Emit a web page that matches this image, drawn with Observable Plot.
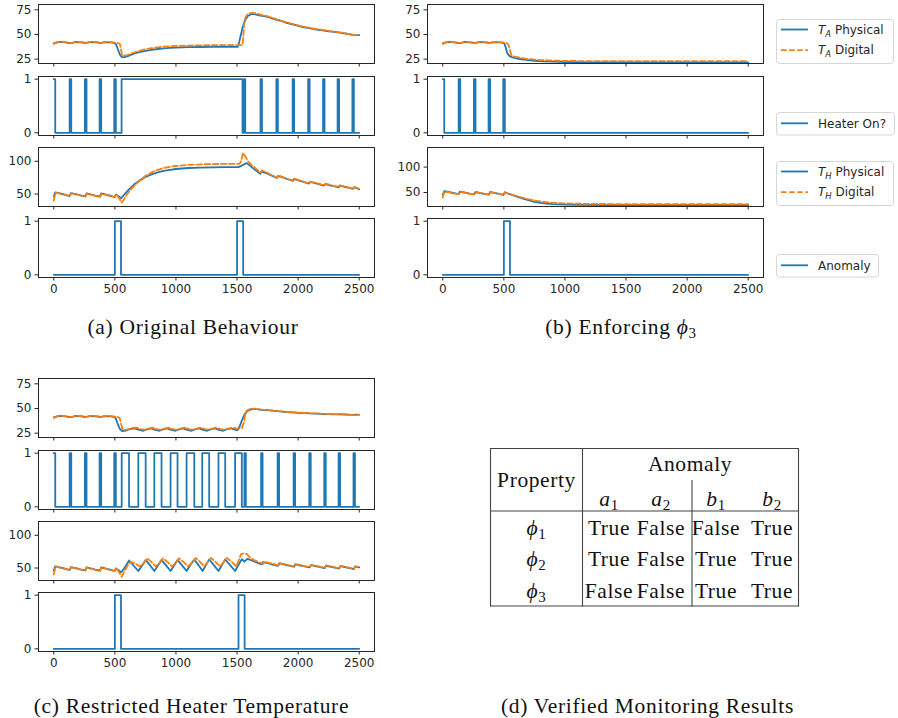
<!DOCTYPE html>
<html><head><meta charset="utf-8">
<script src="https://cdn.jsdelivr.net/npm/d3@7"></script>
<script src="https://cdn.jsdelivr.net/npm/@observablehq/plot@0.6"></script>
<style>
html,body{margin:0;padding:0;background:#fff;}
#root{position:relative;width:898px;height:718px;overflow:hidden;background:#fff;}
</style>
</head><body><div id="root"></div>
<script>
// ---------------- DATA ----------------
const xTicks = [0, 500, 1000, 1500, 2000, 2500];
const taTicks = [25, 50, 75];
const binTicks = [0, 1];
const thTicks = [50, 100];

// shared behaviour before the anomaly at t=500
const taPhysPre = [[0,41],[25,42],[55,42.6],[95,42],[130,41.3],[150,41.6],[180,42.4],[220,42.1],[255,41.4],[275,41.7],[300,42.4],[340,42.1],[375,41.4],[395,41.7],[420,42.3],[460,42],[495,41.4]];
const taDigPre = [[0,40.5],[20,41.5],[50,42.8],[90,42.3],[130,41.5],[160,41.8],[190,42.6],[230,42.3],[265,41.6],[285,41.9],[310,42.6],[350,42.3],[385,41.6],[405,41.9],[430,42.5],[470,42.2],[500,41.8]];
const thPhysPre = [[0,46],[12,52.5],[50,51],[90,49],[130,47],[140,51.5],[180,50],[220,48],[258,46.5],[268,51],[300,49.5],[340,47.5],[377,46],[388,51],[420,49.5],[460,47.5],[497,45.5]];
const thDigPre = [[0,40],[14,52],[50,50.6],[90,48.6],[132,46.6],[142,51.3],[180,49.6],[220,47.6],[260,46.2],[270,50.8],[300,49.2],[340,47.2],[380,45.7],[390,50.8],[420,49.2],[460,47.2],[500,45.2]];

// (a) Original Behaviour
const taPhysA = [[510,40],[525,35],[540,30],[555,27.2],[570,26.8],[600,27.8],[650,30.3],[700,32.1],[750,33.5],[800,34.5],[850,35.3],[900,35.9],[950,36.4],[1000,36.7],[1100,37.1],[1200,37.3],[1300,37.4],[1400,37.5],[1505,37.5],[1515,41],[1530,49],[1545,57],[1565,64.5],[1590,69],[1620,70.8],[1650,70.5],[1690,69.2],[1710,68.8],[1750,67.8],[1800,65.8],[1830,64.5],[1850,64.2],[1900,62],[1950,60.2],[1975,59.8],[2000,58.8],[2050,57.2],[2100,56.2],[2150,55],[2200,54.2],[2250,53.2],[2300,52.6],[2350,51.6],[2400,50.6],[2450,49.6],[2500,49.3]];
const taDigA = [[520,41.6],[540,40.5],[548,37],[555,31],[563,28.3],[600,29],[650,31.5],[700,33.5],[750,35],[800,36.1],[850,37],[900,37.6],[950,38.1],[1000,38.4],[1100,38.8],[1200,39],[1300,39.1],[1400,39.2],[1545,39.2],[1550,47],[1558,60],[1568,67],[1585,70.5],[1620,72],[1650,71.5],[1700,69.8],[1750,68.5],[1800,66.5],[1830,65],[1850,64.5],[1900,62.5],[1950,60.8],[2000,59.2],[2050,57.8],[2100,56.5],[2150,55.5],[2200,54.6],[2250,53.6],[2300,52.8],[2350,52],[2400,50.8],[2450,49.6],[2500,49]];
const heaterOnA = [[0,12],[130,143],[255,268],[375,388],[495,508],[555,1545],[1555,1567],[1692,1704],[1822,1834],[1955,1967],[2082,2094],[2204,2216],[2323,2335],[2444,2456]];
const thPhysA = [[510,49.5],[530,46.5],[552,43.5],[580,50],[620,58],[660,65],[700,70.5],[750,76],[800,80],[850,83],[900,85.3],[950,87],[1000,88.2],[1100,89.7],[1200,90.4],[1300,90.8],[1400,91],[1510,91],[1530,92.5],[1555,95],[1580,97.2],[1610,92.5],[1650,86.5],[1690,81],[1700,84.5],[1740,82],[1790,77.5],[1826,74.5],[1836,77.8],[1880,75],[1920,72.2],[1957,70],[1967,72.8],[2010,70.5],[2050,68],[2088,66],[2098,68.5],[2140,66.5],[2180,64.5],[2210,63],[2220,65.3],[2270,63],[2300,61.7],[2330,60.5],[2340,62.8],[2390,60.5],[2430,59],[2450,58],[2460,60.5],[2500,57.3]];
const thDigA = [[512,49.8],[535,43.5],[556,36.8],[575,42],[600,50],[650,61],[700,70],[750,77.5],[800,83],[850,87],[900,89.8],[950,91.6],[1000,92.8],[1100,94.4],[1200,95.3],[1300,95.7],[1400,96],[1520,96],[1535,101],[1548,113],[1565,108],[1590,100],[1620,94],[1660,88],[1693,83],[1703,86],[1740,83],[1790,78.5],[1830,75],[1840,78.5],[1880,75.5],[1920,72.8],[1960,70.5],[1970,73.5],[2010,71],[2050,68.5],[2090,66.3],[2100,69],[2140,67],[2180,65],[2212,63.2],[2222,65.8],[2270,63.5],[2300,62],[2333,60.5],[2343,63.3],[2390,61],[2430,59],[2452,57.8],[2462,60.8],[2500,58]];
const anomalyA = [[500,550],[1500,1550]];

// (b) Enforcing phi_3
const taPhysB = [[505,40.5],[515,37],[528,31],[545,28.3],[570,26.8],[620,25.4],[680,24.3],[750,23.4],[820,22.8],[900,22.4],[1000,22.1],[1200,21.8],[1500,21.7],[2000,21.6],[2500,21.6]];
const taDigB = [[525,41.4],[540,39],[550,34],[560,29.5],[580,27.8],[630,26.4],[700,25.2],[780,24.3],[860,23.8],[950,23.4],[1100,23.1],[1400,23],[2000,23],[2500,23]];
const heaterOnB = [[0,12],[130,143],[255,268],[375,388],[495,508]];
const thPhysB = [[508,50.5],[530,48.5],[560,46],[600,42.5],[650,38.3],[700,34.8],[750,31.8],[800,29.8],[850,28.3],[900,27.3],[1000,26.1],[1100,25.5],[1300,25.1],[1600,25],[2500,25]];
const thDigB = [[510,50.2],[535,47.5],[565,45.5],[600,43.3],[650,40],[700,37],[750,34.5],[800,32.5],[850,31],[900,30],[1000,28.7],[1100,28],[1300,27.4],[1600,27.2],[2500,27.2]];
const anomalyB = [[500,550]];

// (c) Restricted Heater Temperature
const taPhysC = [[507,40],[522,35],[540,29.5],[560,27.2],[590,27.5],[625,29.2],[660,29.8],[700,28.3],[735,27.4],[760,28.8],[795,29.8],[830,28.3],[866,27.4],[893,28.8],[928,29.8],[962,28.3],[997,27.4],[1024,28.8],[1059,29.8],[1093,28.3],[1128,27.4],[1155,28.8],[1190,29.8],[1222,28.3],[1256,27.4],[1283,28.8],[1318,29.8],[1352,28.3],[1387,27.4],[1414,28.8],[1450,29.8],[1488,28.3],[1505,28],[1520,31.5],[1540,38],[1560,43.5],[1585,47.5],[1620,49.3],[1660,49.3],[1710,48.4],[1750,48.3],[1800,47.5],[1850,47.1],[1900,46.4],[1950,46.1],[2000,45.6],[2050,45.4],[2100,45],[2150,44.8],[2200,44.4],[2250,44.3],[2300,44],[2350,44],[2400,43.8],[2450,43.5],[2500,43.8]];
const taDigC = [[520,41.5],[540,40.2],[550,35],[560,30],[575,28.2],[605,28.8],[640,30.2],[675,30.6],[715,29.2],[750,28.4],[775,29.7],[810,30.6],[845,29.2],[880,28.4],[905,29.7],[940,30.6],[977,29.2],[1010,28.4],[1036,29.7],[1072,30.6],[1108,29.2],[1142,28.4],[1168,29.7],[1203,30.6],[1237,29.2],[1270,28.4],[1296,29.7],[1332,30.6],[1367,29.2],[1400,28.4],[1426,29.7],[1463,30.6],[1500,29.6],[1540,30],[1548,33.5],[1558,36],[1566,44],[1580,48],[1610,49.7],[1650,49.8],[1700,48.9],[1750,48.6],[1800,47.8],[1850,47.4],[1900,46.7],[1950,46.3],[2000,45.9],[2050,45.6],[2100,45.2],[2150,45],[2200,44.6],[2250,44.5],[2300,44.2],[2350,44.2],[2400,43.9],[2450,43.2],[2500,43.6]];
const heaterOnC = [[0,12],[130,143],[255,268],[375,388],[495,508],[556,616],[692,752],[823,882],[956,1013],[1087,1150],[1215,1272],[1348,1403],[1484,1539],[1560,1572],[1697,1709],[1832,1844],[1963,1975],[2091,2103],[2214,2226],[2331,2343],[2453,2465]];
const thPhysC = [[508,49.5],[530,46.5],[553,43.5],[585,52],[616,61.5],[654,53.5],[692,45.5],[722,53.5],[752,62.5],[788,54],[823,45.5],[853,54],[882,62.5],[919,54],[956,45.5],[985,54],[1013,62.5],[1050,54],[1087,45.5],[1118,54.5],[1150,63],[1184,54.5],[1218,45.5],[1245,54.5],[1272,63],[1310,54.5],[1348,45.5],[1376,54.5],[1403,63],[1443,54.5],[1484,45.5],[1512,55],[1539,63.5],[1560,60],[1585,64],[1620,61.5],[1660,58.5],[1700,55.5],[1710,59],[1760,57],[1800,55],[1835,53.5],[1845,57],[1900,54.8],[1940,53],[1966,52],[1976,55.5],[2030,53.5],[2070,51.7],[2094,51],[2104,54.3],[2160,52.3],[2200,50.5],[2217,50],[2227,53.5],[2280,51.5],[2320,49.7],[2334,49],[2344,52.8],[2400,50.8],[2440,49.2],[2456,48.5],[2466,52.3],[2500,51]];
const thDigC = [[510,50],[533,44],[556,36.5],[580,46],[600,52],[628,59.5],[665,57],[705,52.5],[740,58],[765,65],[800,59],[835,52.5],[868,58],[895,65],[932,59],[968,52.5],[1000,58],[1027,65],[1063,59],[1100,52.5],[1132,58.5],[1163,65.5],[1197,59.5],[1230,52.5],[1258,58.5],[1287,65.5],[1323,59.5],[1360,52.5],[1388,58.5],[1417,65.5],[1455,59.5],[1495,52.5],[1515,62],[1532,71],[1548,72],[1580,71.5],[1600,67],[1640,62],[1680,59],[1712,56],[1722,59.5],[1770,57.5],[1810,55.5],[1838,54],[1848,57.5],[1900,55.3],[1940,53.5],[1968,52.5],[1978,56],[2030,54],[2070,52.2],[2096,51.5],[2106,54.8],[2160,52.8],[2200,51],[2219,50.5],[2229,54],[2280,52],[2320,50.2],[2336,49.5],[2346,53.3],[2400,51.3],[2440,49.7],[2458,49],[2468,52.8],[2500,51.5]];
const anomalyC = [[500,550],[1512,1562]];

const legendLabels = [["T","A","Physical"],["T","A","Digital"],["Heater On?"],["T","H","Physical"],["T","H","Digital"],["Anomaly"]];
const captions = ["(a) Original Behaviour", "(b) Enforcing ", "(c) Restricted Heater Temperature", "(d) Verified Monitoring Results"];
const tableHeader = ["Property", "Anomaly"];
const tableCols = [["a","1"],["a","2"],["b","1"],["b","2"]];
const tableRows = ["1","2","3"];
const tableVals = [["True","False","False","True"],["True","False","True","True"],["False","False","True","True"]];

// ---------------- DRAWING ----------------
const BLUE = "#1f77b4", ORANGE = "#ff7f0e", INK = "#262626";
const root = document.getElementById("root");

function pts(a) { return a.map(([t, v]) => ({t, v})); }
function steps(intervals) {
  const out = [];
  if (intervals[0][0] > 0) out.push({t: 0, v: 0});
  for (const [s, e] of intervals) { out.push({t: s, v: 1}); out.push({t: e, v: 0}); }
  out.push({t: 2500, v: 0});
  return out;
}

const FW = 336, FH = 59;
function sub(left, top, yDomain, yTicks, labels, marks) {
  const mt = 2, mb = labels ? 26 : 6, ml = 40, mr = 4;
  const svg = Plot.plot({
    width: ml + FW + mr, height: mt + FH + mb,
    marginTop: mt, marginBottom: mb, marginLeft: ml, marginRight: mr,
    x: {domain: [-125, 2625], ticks: xTicks, tickSize: 3.5, tickPadding: 3.5,
        tickFormat: labels ? (d => String(d)) : (() => ""), label: null},
    y: {domain: yDomain, ticks: yTicks, tickSize: 3.5, tickPadding: 3.5, tickFormat: d => String(d), label: null},
    style: {background: "transparent", overflow: "visible", fontFamily: "DejaVu Sans", fontSize: "12px", color: INK},
    marks: [...marks, Plot.frame({stroke: INK, strokeWidth: 1})]
  });
  svg.style.position = "absolute";
  svg.style.left = (left - ml) + "px";
  svg.style.top = (top - mt) + "px";
  root.append(svg);
}
function pair(phys, dig) {
  return [
    Plot.line(pts(phys), {x: "t", y: "v", stroke: BLUE, strokeWidth: 1.8}),
    Plot.line(pts(dig), {x: "t", y: "v", stroke: ORANGE, strokeWidth: 1.8, strokeDasharray: "5.5,2.6"})
  ];
}
function stepLine(intervals) {
  return [Plot.line(steps(intervals), {x: "t", y: "v", stroke: BLUE, strokeWidth: 1.8, curve: "step-after"})];
}

function panel(left, top0, ta, tad, heater, th, thd, anom, thDomain) {
  const tops = [top0, top0 + 71.5, top0 + 142.5, top0 + 213.5];
  sub(left, tops[0], [20.6, 80.4], taTicks, false, pair(ta, tad));
  sub(left, tops[1], [-0.05, 1.05], binTicks, false, stepLine(heater));
  sub(left, tops[2], thDomain, thTicks, false, pair(th, thd));
  sub(left, tops[3], [-0.05, 1.05], binTicks, true, stepLine(anom));
}

panel(38, 4, taPhysPre.concat(taPhysA), taDigPre.concat(taDigA), heaterOnA,
      thPhysPre.concat(thPhysA), thDigPre.concat(thDigA), anomalyA, [31, 121]);
panel(427, 4, taPhysPre.concat(taPhysB), taDigPre.concat(taDigB), heaterOnB,
      thPhysPre.concat(thPhysB), thDigPre.concat(thDigB), anomalyB, [22.5, 138.5]);
panel(38, 378, taPhysPre.concat(taPhysC), taDigPre.concat(taDigC), heaterOnC,
      thPhysPre.concat(thPhysC), thDigPre.concat(thDigC), anomalyC, [31, 121]);

// ---------- overlay: legends, captions, table ----------
const ov = d3.select(root).append("svg")
  .attr("width", 898).attr("height", 718)
  .style("position", "absolute").style("left", "0px").style("top", "0px")
  .style("overflow", "visible");

function labelText(g, x, y, lab) {
  const t = g.append("text").attr("x", x).attr("y", y).attr("dy", "0.35em")
    .attr("font-family", "DejaVu Sans").attr("font-size", 12).attr("fill", INK);
  if (lab.length === 3) {
    t.append("tspan").attr("font-style", "italic").text(lab[0]);
    t.append("tspan").attr("font-style", "italic").attr("font-size", 8.4).attr("dy", 3).text(lab[1]);
    t.append("tspan").attr("dy", -3).text(" " + lab[2]);
  } else {
    t.text(lab[0]);
  }
}
function legend(x, y, w, h, entries) {
  const g = ov.append("g");
  g.append("rect").attr("x", x + 0.5).attr("y", y + 0.5).attr("width", w).attr("height", h)
    .attr("rx", 3).attr("fill", "white").attr("stroke", "#d6d6d6").attr("stroke-width", 1);
  for (const e of entries) {
    g.append("line").attr("x1", x + 5).attr("x2", x + 32).attr("y1", e.cy).attr("y2", e.cy)
      .attr("stroke", e.color).attr("stroke-width", 1.8).attr("stroke-dasharray", e.dash ? "5.5,2.6" : null);
    labelText(g, x + 42, e.cy, e.lab);
  }
}
legend(776, 19, 117, 44, [{cy: 29.5, color: BLUE, lab: legendLabels[0]}, {cy: 50.2, color: ORANGE, dash: true, lab: legendLabels[1]}]);
legend(776, 112, 118, 22.5, [{cy: 123.3, color: BLUE, lab: legendLabels[2]}]);
legend(776, 161, 117, 44, [{cy: 171.5, color: BLUE, lab: legendLabels[3]}, {cy: 192.2, color: ORANGE, dash: true, lab: legendLabels[4]}]);
legend(776, 254, 102, 22.5, [{cy: 265.3, color: BLUE, lab: legendLabels[5]}]);

// captions
const SERIF = "Liberation Serif";
function cap(x, y, s) {
  return ov.append("text").attr("x", x).attr("y", y).attr("text-anchor", "middle")
    .attr("font-family", SERIF).attr("font-size", 21.5).attr("letter-spacing", 0.7).attr("fill", "#111").text(s);
}
cap(193, 334, captions[0]);
const cb = cap(621, 334, captions[1]);
cb.append("tspan").attr("font-style", "italic").text("ϕ");
cb.append("tspan").attr("font-size", 15).attr("dy", 4).text("3");
cap(191.5, 713, captions[2]);
cap(647.5, 713, captions[3]);

// table
const T = ov.append("g").attr("font-family", SERIF).attr("font-size", 21.5).attr("fill", "#111");
const tl = (x1, y1, x2, y2) => T.append("line").attr("x1", x1).attr("y1", y1).attr("x2", x2).attr("y2", y2)
  .attr("stroke", "#444").attr("stroke-width", 1.1);
tl(490, 448.5, 799, 448.5); tl(490, 606, 799, 606); tl(490.5, 448, 490.5, 606.5); tl(798.5, 448, 798.5, 606.5);
tl(582.5, 448, 582.5, 606.5); tl(490, 511, 799, 511); tl(692, 480, 692, 606.5);
function ttext(x, y, s) {
  return T.append("text").attr("x", x).attr("y", y).attr("text-anchor", "middle").attr("letter-spacing", 0.6).text(s);
}
ttext(536.5, 486.5, tableHeader[0]);
ttext(690, 471, tableHeader[1]);
const colX = [609, 661, 716, 772];
tableCols.forEach((c, i) => {
  const t = ttext(colX[i], 506, null);
  t.append("tspan").attr("font-style", "italic").text(c[0]);
  t.append("tspan").attr("font-size", 15).attr("dy", 4).text(c[1]);
});
const rowY = [535, 566, 597.5];
tableRows.forEach((r, i) => {
  const t = ttext(536.5, rowY[i], null);
  t.append("tspan").attr("font-style", "italic").text("ϕ");
  t.append("tspan").attr("font-size", 15).attr("dy", 4).text(r);
  tableVals[i].forEach((v, j) => ttext(colX[j], rowY[i], v));
});
</script></body></html>
